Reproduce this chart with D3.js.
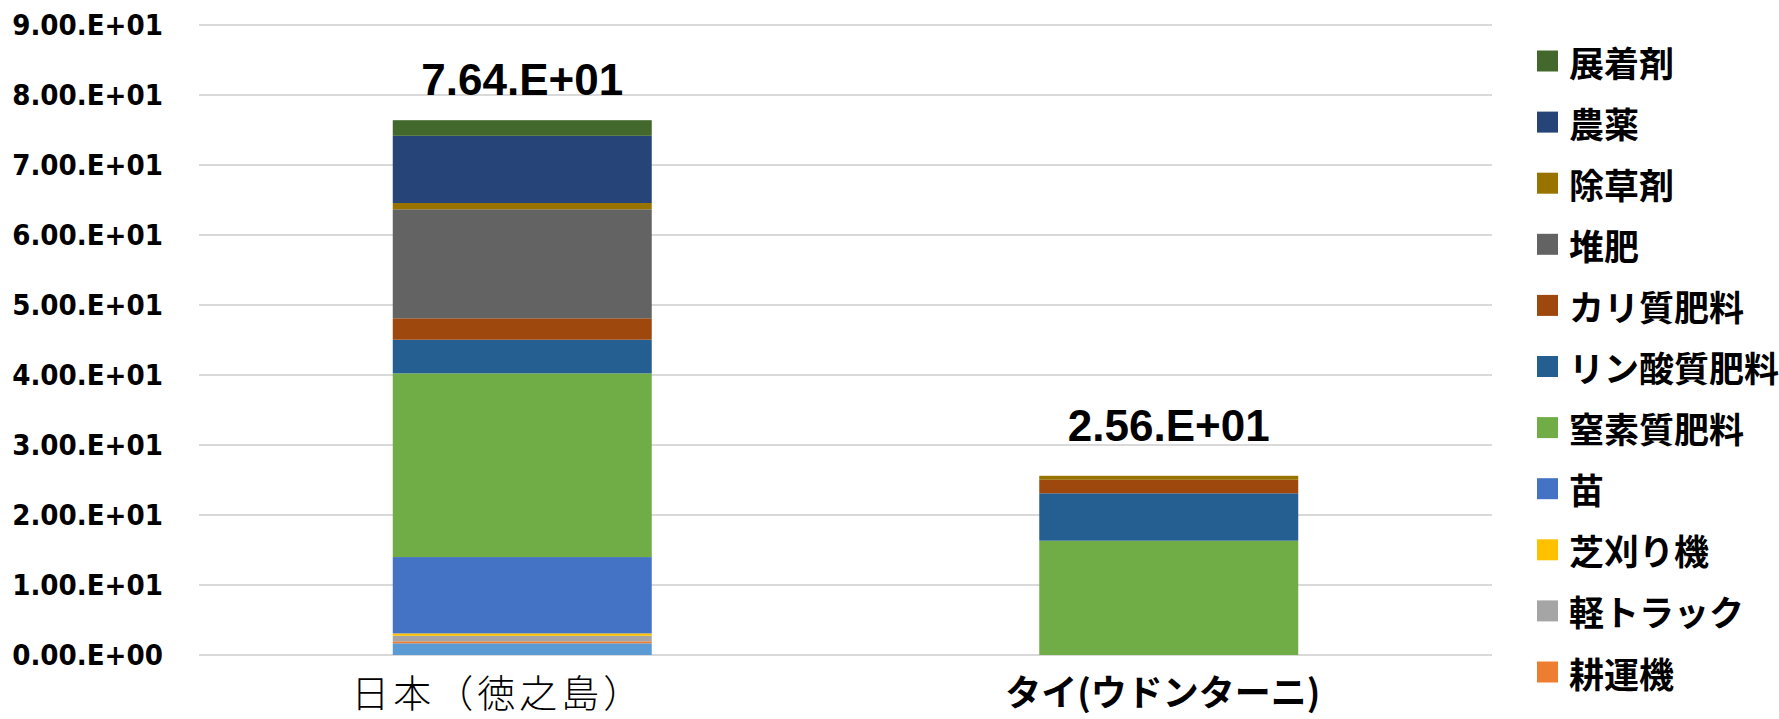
<!DOCTYPE html>
<html>
<head>
<meta charset="utf-8">
<script src="https://cdn.jsdelivr.net/npm/d3@7"></script>
<style>
  html, body { margin: 0; padding: 0; background: #ffffff; }
  svg { display: block; }
</style>
</head>
<body>
<svg id="chart" width="1779" height="719"></svg>
<script>
// Categories (x axis)
const categories = ["日本（徳之島）", "タイ(ウドンターニ)"];

// Stacked series, listed from the bottom of each bar to the top
const seriesNames = ["トラクター", "耕運機", "軽トラック", "芝刈り機", "苗", "窒素質肥料",
                     "リン酸質肥料", "カリ質肥料", "堆肥", "除草剤", "農薬", "展着剤"];
const japanValues = [1.67, 0.28, 0.80, 0.34, 10.90, 26.25, 4.80, 3.06, 15.57, 0.90, 9.60, 2.23];
const thaiValues  = [0, 0, 0, 0, 0, 16.33, 6.77, 1.93, 0, 0.57, 0, 0];
const seriesColors = ["#5B9BD5", "#ED7D31", "#A5A5A5", "#FFC000", "#4472C4", "#70AD47",
                      "#255E91", "#9E480E", "#636363", "#997300", "#264478", "#43682B"];

// Y axis ticks
const yTicks = [0, 10, 20, 30, 40, 50, 60, 70, 80, 90];

// Number format used by the axis and the totals: "7.64.E+01"
function sciLabel(v) {
  if (v === 0) return "0.00.E+00";
  const e = Math.floor(Math.log10(Math.abs(v)));
  const m = v / Math.pow(10, e);
  const sign = e < 0 ? "-" : "+";
  return m.toFixed(2) + ".E" + sign + String(Math.abs(e)).padStart(2, "0");
}

const svg = d3.select("#chart");
const plot = { left: 199, right: 1492, top: 25, bottom: 655 };

const x = d3.scaleBand()
  .domain(categories)
  .range([plot.left, plot.right])
  .paddingInner(0.5994)
  .paddingOuter(0.2997);

const y = d3.scaleLinear()
  .domain([0, 90])
  .range([plot.bottom, plot.top]);

// Rows for d3.stack: one per category
const rows = categories.map((c, i) => {
  const vals = i === 0 ? japanValues : thaiValues;
  const row = { category: c };
  seriesNames.forEach((s, j) => { row[s] = vals[j]; });
  return row;
});

const stacked = d3.stack().keys(seriesNames)(rows);

// Horizontal gridlines
svg.append("g")
  .selectAll("line")
  .data(yTicks)
  .join("line")
  .attr("x1", plot.left)
  .attr("x2", plot.right)
  .attr("y1", d => y(d))
  .attr("y2", d => y(d))
  .attr("stroke", "#d9d9d9")
  .attr("stroke-width", 2);

// Y axis labels
const yAxis = d3.axisLeft(y).tickValues(yTicks).tickFormat(sciLabel).tickSize(0).tickPadding(0);
const yg = svg.append("g")
  .attr("transform", `translate(163,0)`)
  .call(yAxis);
yg.select(".domain").remove();
yg.selectAll("text")
  .attr("font-family", "'DejaVu Sans', Verdana, sans-serif")
  .attr("font-weight", "bold")
  .attr("font-size", 27)
  .attr("transform", "scale(0.97,1.06)")
  .attr("fill", "#000");

// Stacked bars
svg.append("g")
  .selectAll("g")
  .data(stacked)
  .join("g")
  .attr("fill", (d, i) => seriesColors[i])
  .selectAll("rect")
  .data(d => d)
  .join("rect")
  .attr("x", d => x(d.data.category))
  .attr("width", x.bandwidth())
  .attr("y", d => y(d[1]))
  .attr("height", d => Math.max(0, y(d[0]) - y(d[1])));

// Totals above each bar
const totals = rows.map(r => ({ category: r.category, total: d3.sum(seriesNames, s => r[s]) }));
const totalLift = [25, 35];
svg.append("g")
  .selectAll("text")
  .data(totals)
  .join("text")
  .attr("x", d => x(d.category) + x.bandwidth() / 2)
  .attr("y", (d, i) => y(d.total) - totalLift[i])
  .attr("text-anchor", "middle")
  .attr("font-family", "'Liberation Sans', Arial, sans-serif")
  .attr("font-weight", "bold")
  .attr("font-size", 44)
  .attr("fill", "#000")
  .text(d => sciLabel(d.total));

// Category labels
const catStyle = [
  { weight: 300, size: 38, dx: -24, spacing: 4 },
  { weight: 700, size: 36, dx: -6, spacing: 0 }
];
svg.append("g")
  .selectAll("text")
  .data(categories)
  .join("text")
  .attr("x", (d, i) => x(d) + x.bandwidth() / 2 + catStyle[i].dx)
  .attr("y", 690)
  .attr("dominant-baseline", "central")
  .attr("text-anchor", "middle")
  .attr("font-family", "'Noto Sans CJK JP', sans-serif")
  .attr("font-weight", (d, i) => catStyle[i].weight)
  .attr("font-size", (d, i) => catStyle[i].size)
  .attr("letter-spacing", (d, i) => catStyle[i].spacing)
  .attr("fill", "#000")
  .text(d => d);

// Legend: last series first; the area holds eleven rows
const legendItems = seriesNames.map((s, i) => ({ name: s, color: seriesColors[i] }))
  .reverse()
  .slice(0, 11);
const legend = svg.append("g")
  .selectAll("g")
  .data(legendItems)
  .join("g")
  .attr("transform", (d, i) => `translate(1537, ${61 + i * 61.1})`);
legend.append("rect")
  .attr("x", 0)
  .attr("y", -10.5)
  .attr("width", 21)
  .attr("height", 21)
  .attr("fill", d => d.color);
legend.append("text")
  .attr("x", 32)
  .attr("y", 0)
  .attr("dominant-baseline", "central")
  .attr("font-family", "'Noto Sans CJK JP', sans-serif")
  .attr("font-weight", "bold")
  .attr("font-size", 35)
  .attr("fill", "#000")
  .text(d => d.name);
</script>
</body>
</html>
